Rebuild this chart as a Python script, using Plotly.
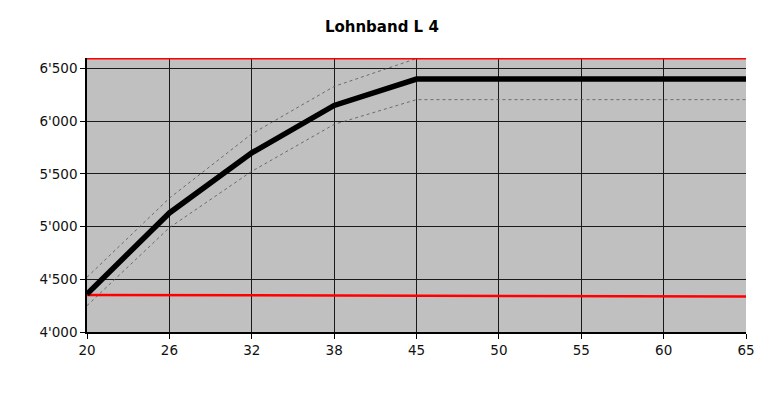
import plotly.graph_objs as go

# age categories (equally spaced on the chart)
ages = ["20", "26", "32", "38", "45", "50", "55", "60", "65"]

# salary band values
mittel = [4360, 5130, 5700, 6150, 6400, 6400, 6400, 6400, 6400]
oben = [4520, 5270, 5880, 6330, 6595, 6595, 6595, 6595, 6595]
unten = [4250, 4990, 5525, 5970, 6205, 6205, 6205, 6205, 6205]
maximum = [6600, 6600, 6600, 6600, 6600, 6600, 6600, 6600, 6600]
minimum = [4352, 4350, 4348, 4346, 4344, 4342, 4340, 4338, 4336]

font_family = "DejaVu Sans"

traces = [
    go.Scatter(x=ages, y=oben, mode="lines", name="oben",
               line=dict(color="#555555", width=0.8, dash="dot")),
    go.Scatter(x=ages, y=unten, mode="lines", name="unten",
               line=dict(color="#555555", width=0.8, dash="dot")),
    go.Scatter(x=ages, y=minimum, mode="lines", name="minimum",
               line=dict(color="#ff0000", width=2.5)),
    go.Scatter(x=ages, y=maximum, mode="lines", name="maximum",
               line=dict(color="#ff0000", width=3), cliponaxis=False),
    go.Scatter(x=ages, y=mittel, mode="lines", name="mittel",
               line=dict(color="#000000", width=5.5), cliponaxis=False),
]

# the page body adds 8px around the plot, so the figure is a bit smaller
layout = go.Layout(
    width=763,
    height=401,
    title=dict(text="<b>Lohnband L 4</b>", x=0.49, xanchor="center",
               y=0.952, yanchor="middle",
               font=dict(family=font_family, size=15, color="#000000")),
    showlegend=False,
    paper_bgcolor="white",
    plot_bgcolor="#c0c0c0",
    separators=".'",
    margin=dict(l=79, r=25, t=50, b=77),
    font=dict(family=font_family, size=13.5, color="#111111"),
    xaxis=dict(
        type="category",
        range=[0, 8],
        showgrid=True,
        gridcolor="#1a1a1a",
        gridwidth=1.2,
        showline=True,
        linecolor="#000000",
        linewidth=2,
        ticks="outside",
        ticklen=5,
        tickcolor="#000000",
        zeroline=False,
        fixedrange=True,
    ),
    yaxis=dict(
        range=[4000, 6600],
        tickvals=[4000, 4500, 5000, 5500, 6000, 6500],
        tickformat=",d",
        showgrid=True,
        gridcolor="#1a1a1a",
        gridwidth=1.2,
        showline=True,
        linecolor="#000000",
        linewidth=1.5,
        ticks="outside",
        ticklen=5,
        tickcolor="#000000",
        zeroline=False,
        fixedrange=True,
    ),
)

fig = go.Figure(data=traces, layout=layout)
fig.write_html("out.html")
